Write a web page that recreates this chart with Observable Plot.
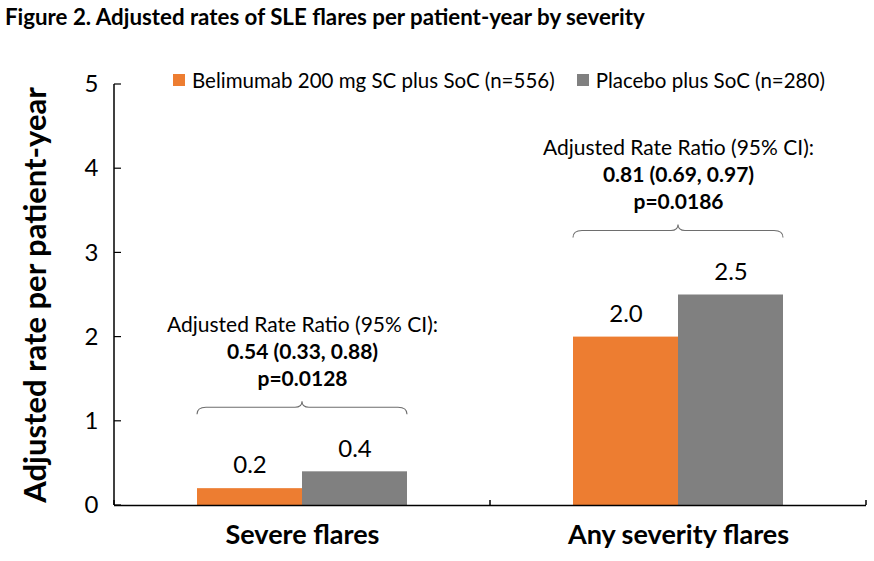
<!DOCTYPE html>
<html><head><meta charset="utf-8">
<script src="https://cdn.jsdelivr.net/npm/d3@7"></script>
<script src="https://cdn.jsdelivr.net/npm/@observablehq/plot@0.6"></script>
<style>
body{margin:0;background:#fff;font-family:Lato,sans-serif;color:#000;}
#wrap{position:relative;width:874px;height:561px;overflow:hidden;}
#title{position:absolute;left:5px;top:3px;font-weight:bold;font-size:22.3px;white-space:nowrap;}
#legend{position:absolute;top:68px;left:173px;display:flex;align-items:center;font-size:20.5px;white-space:nowrap;}
#legend .item{display:flex;align-items:center;margin-right:22px;}
#legend .sw{width:12px;height:12px;margin-right:7px;}
#chart{position:absolute;left:0;top:40px;}
[aria-label="y-axis label"]{font-size:31px;font-weight:bold;}
</style></head><body>
<div id="wrap">
<div id="title">Figure 2. Adjusted rates of SLE flares per patient-year by severity</div>
<div id="chart"></div>
<div id="legend"></div>
</div>
<script>
const categories = ["Severe flares", "Any severity flares"];
const series = ["Belimumab 200 mg SC plus SoC (n=556)", "Placebo plus SoC (n=280)"];
const belimumab = [0.2, 2.0];
const placebo = [0.4, 2.5];
const ratioLines = ["0.54 (0.33, 0.88)", "0.81 (0.69, 0.97)"];
const pLines = ["p=0.0128", "p=0.0186"];
const ratioHeader = "Adjusted Rate Ratio (95% CI):";
const yTicks = [0, 1, 2, 3, 4, 5];
const yLabel = "Adjusted rate per patient-year";
const colors = ["#ED7D31", "#808080"];

const rows = categories.flatMap((c, i) => [
  {category: c, series: series[0], value: belimumab[i]},
  {category: c, series: series[1], value: placebo[i]}
]);
const ann = categories.map((c, i) => ({
  category: c, top: Math.max(belimumab[i], placebo[i]), ratio: ratioLines[i], p: pLines[i]
}));

const fmt = d3.format(".1f");
const plot = Plot.plot({
  width: 874, height: 521,
  marginLeft: 114, marginRight: 8, marginTop: 44, marginBottom: 56,
  style: {fontFamily: "Lato, sans-serif", color: "#000", background: "transparent"},
  fx: {domain: categories, padding: 0, label: null},
  x: {domain: series, paddingInner: 0, paddingOuter: 0.79, axis: null},
  y: {domain: [0, 5]},
  color: {domain: series, range: colors},
  marks: [
    Plot.barY(rows, {fx: "category", x: "series", y: "value", fill: "series"}),
    Plot.text(rows, {fx: "category", x: "series", y: "value", text: d => fmt(d.value), dy: -23, fontSize: 24, fill: "#000"}),
    Plot.text(ann, {fx: "category", y: "top", frameAnchor: "middle", text: () => ratioHeader, dy: -147, fontSize: 21, fill: "#000"}),
    Plot.text(ann, {fx: "category", y: "top", frameAnchor: "middle", text: "ratio", dy: -120, fontSize: 21, fontWeight: "bold", fill: "#000"}),
    Plot.text(ann, {fx: "category", y: "top", frameAnchor: "middle", text: "p", dy: -93, fontSize: 21, fontWeight: "bold", fill: "#000"}),
    Plot.ruleY([0], {stroke: "#000", strokeWidth: 1.5}),
    Plot.axisY({ticks: yTicks, tickSize: 0, tickPadding: 16, fontSize: 24, tickFormat: d3.format("d"),
      label: yLabel, labelAnchor: "center", labelOffset: 91, labelArrow: "none"}),
    Plot.axisFx({anchor: "bottom", tickSize: 0, tickPadding: 19, fontSize: 27, fontWeight: "bold", label: null})
  ]
});
document.getElementById("chart").appendChild(plot);

// axis lines, ticks and braces drawn from the plot's own scales
const fxS = plot.scale("fx"), xS = plot.scale("x"), yS = plot.scale("y");
const svg = d3.select(plot);
const g = svg.append("g");
const x0 = fxS.range[0];
const yb = yS.apply(0), yt = yS.apply(yTicks[yTicks.length - 1]);
g.append("line").attr("x1", x0).attr("x2", x0).attr("y1", yt).attr("y2", yb).attr("stroke", "#000").attr("stroke-width", 1.5);
yTicks.forEach(t => {
  g.append("line").attr("x1", x0).attr("x2", x0 + 7).attr("y1", yS.apply(t)).attr("y2", yS.apply(t)).attr("stroke", "#000").attr("stroke-width", 1.2);
});
const edges = [x0, ...categories.map(c => fxS.apply(c) + fxS.bandwidth)];
edges.forEach(e => {
  g.append("line").attr("x1", e).attr("x2", e).attr("y1", yb).attr("y2", yb - 5).attr("stroke", "#000").attr("stroke-width", 1.5);
});
categories.forEach((c, i) => {
  const off = fxS.apply(c) - xS.range[0];
  const xL = off + xS.apply(series[0]);
  const xR = off + xS.apply(series[1]) + xS.bandwidth;
  const xm = (xL + xR) / 2;
  const y0 = yS.apply(ann[i].top) - 64;
  const d = `M${xL},${y0 + 7} Q${xL},${y0} ${xL + 9},${y0} L${xm - 7},${y0} Q${xm},${y0} ${xm},${y0 - 6} Q${xm},${y0} ${xm + 7},${y0} L${xR - 9},${y0} Q${xR},${y0} ${xR},${y0 + 7}`;
  g.append("path").attr("d", d).attr("fill", "none").attr("stroke", "#6e6e6e").attr("stroke-width", 1.1);
});

// legend
const leg = d3.select("#legend");
series.forEach((s, i) => {
  const it = leg.append("div").attr("class", "item");
  it.append("div").attr("class", "sw").style("background", colors[i]);
  it.append("span").text(s);
});
</script>
</body></html>
